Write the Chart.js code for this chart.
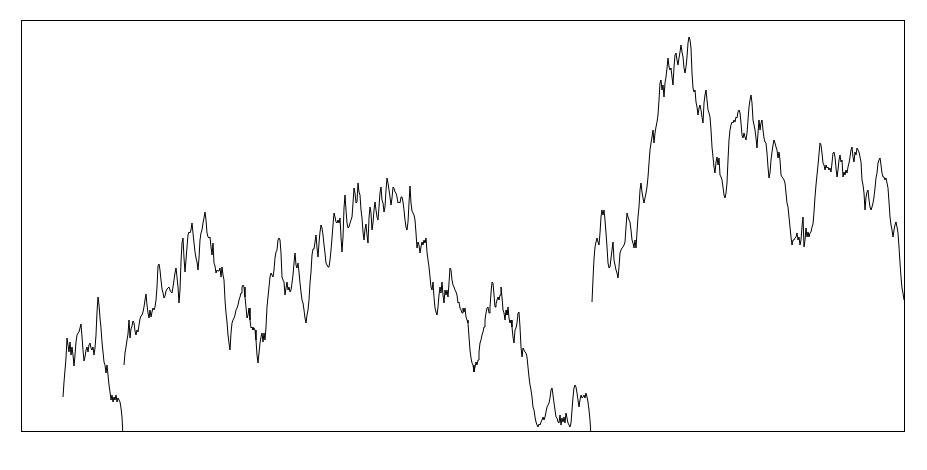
<!DOCTYPE html>
<html>

<head>
    <style>
        body { margin: 0; background: #fff; }
        #wrap { width: 927px; height: 470px; }
    </style>
</head>

<body>
    <div id="wrap">
        <canvas id="chartId"></canvas>
    </div>
    <script src="https://cdn.jsdelivr.net/npm/chart.js"></script>
    <script>
        // 값은 그림에서 읽은 것 (세 구간, 구간 사이는 끊김)
        const segStarts = [63, 124, 592];

        const seg1 = [
            34, 49, 61, 73, 93, 86, 79, 89, 76, 84,
            76, 65, 76, 89, 96, 98, 99, 103, 107, 94,
            81, 70, 74, 81, 84, 79, 86, 88, 83, 81,
            84, 76, 83, 96, 119, 134, 126, 113, 103, 89,
            79, 69, 66, 58, 66, 56, 46, 39, 31, 36,
            29, 34, 31, 36, 29, 33, 31, 29, 23, 14,
            -5
        ];

        const seg2 = [
            66, 78, 84, 91, 97, 111, 93, 102, 105, 110,
            108, 100, 96, 101, 99, 106, 112, 115, 116, 119,
            124, 131, 137, 126, 118, 113, 121, 114, 119, 123,
            121, 124, 131, 144, 165, 167, 161, 151, 142, 138,
            133, 135, 140, 142, 143, 144, 141, 139, 138, 144,
            151, 158, 163, 154, 144, 128, 141, 169, 188, 193,
            173, 159, 171, 184, 196, 199, 198, 201, 208, 198,
            188, 179, 173, 169, 161, 173, 191, 198, 201, 208,
            213, 219, 211, 198, 194, 193, 194, 184, 176, 188,
            168, 165, 158, 161, 160, 160, 163, 154, 164, 156,
            151, 131, 118, 109, 96, 88, 81, 98, 108, 111,
            113, 116, 121, 123, 126, 131, 134, 138, 144, 146,
            144, 134, 124, 113, 116, 123, 111, 103, 104, 101,
            103, 101, 91, 76, 68, 78, 88, 94, 98, 89,
            98, 91, 104, 124, 134, 144, 154, 158, 156, 154,
            161, 173, 179, 181, 191, 193, 191, 178, 154, 151,
            149, 136, 143, 149, 141, 144, 139, 141, 148, 156,
            168, 178, 166, 163, 168, 159, 148, 139, 131, 128,
            121, 113, 108, 116, 121, 131, 148, 159, 176, 182,
            182, 189, 196, 183, 174, 188, 199, 206, 203, 196,
            186, 178, 168, 166, 164, 164, 171, 181, 193, 206,
            218, 214, 209, 208, 211, 208, 213, 194, 179, 194,
            223, 236, 221, 208, 203, 204, 208, 211, 214, 228,
            243, 238, 228, 229, 248, 239, 236, 221, 213, 199,
            191, 202, 207, 196, 188, 213, 224, 218, 201, 208,
            221, 229, 221, 214, 211, 224, 238, 244, 231, 228,
            219, 224, 241, 253, 248, 241, 234, 226, 233, 244,
            243, 239, 238, 234, 228, 229, 228, 234, 234, 229,
            221, 211, 204, 201, 209, 228, 245, 228, 220, 218,
            216, 211, 198, 183, 189, 186, 178, 184, 189, 186,
            191, 188, 193, 179, 171, 164, 154, 144, 141, 149,
            134, 123, 119, 116, 124, 136, 144, 138, 149, 136,
            128, 141, 136, 141, 134, 148, 163, 161, 151, 146,
            144, 141, 139, 136, 128, 129, 123, 121, 118, 123,
            119, 123, 114, 111, 108, 94, 81, 73, 68, 66,
            59, 64, 69, 66, 71, 79, 88, 91, 96, 99,
            104, 111, 118, 123, 124, 118, 124, 138, 149, 148,
            136, 124, 127, 131, 134, 131, 136, 144, 134, 121,
            118, 111, 121, 116, 124, 113, 108, 111, 104, 94,
            88, 101, 103, 108, 118, 119, 104, 84, 74, 83,
            81, 79, 78, 74, 64, 54, 46, 41, 34, 24,
            21, 14, 9, 6, 4, 7, 6, 9, 11, 14,
            11, 14, 19, 24, 26, 28, 33, 41, 43, 36,
            28, 21, 14, 13, 9, 8, 16, 6, 13, 9,
            14, 8, 18, 13, 8, 6, 4, 8, 21, 34,
            43, 46, 44, 38, 31, 24, 31, 36, 33, 34,
            36, 33, 38, 34, 29, 21, 11, -5
        ];

        const seg3 = [
            129, 152, 172, 184, 189, 193, 189, 186, 198, 214,
            221, 216, 221, 211, 198, 184, 168, 163, 164, 173,
            181, 189, 171, 166, 161, 158, 153, 164, 178, 181,
            183, 184, 186, 189, 204, 218, 214, 211, 209, 201,
            191, 188, 183, 191, 183, 199, 214, 224, 241, 248,
            239, 233, 228, 233, 238, 244, 254, 268, 281, 288,
            294, 301, 288, 298, 304, 309, 316, 331, 348, 351,
            341, 346, 334, 348, 354, 363, 373, 364, 361, 363,
            354, 346, 364, 376, 378, 371, 366, 373, 379, 386,
            379, 374, 363, 358, 364, 374, 388, 394, 391, 383,
            358, 343, 339, 341, 329, 324, 316, 323, 326, 321,
            314, 308, 328, 336, 341, 331, 321, 318, 314, 301,
            284, 274, 264, 258, 269, 274, 266, 273, 256, 254,
            251, 244, 236, 233, 238, 248, 271, 291, 301, 306,
            309, 308, 311, 309, 314, 313, 319, 321, 318, 308,
            296, 293, 298, 294, 291, 298, 311, 324, 331, 336,
            328, 311, 306, 301, 293, 283, 298, 311, 301, 308,
            311, 301, 293, 289, 288, 278, 264, 253, 258, 271,
            279, 286, 291, 288, 284, 281, 273, 279, 271, 256,
            254, 253, 251, 248, 238, 228, 224, 214, 204, 194,
            186, 191, 191, 193, 194, 198, 191, 194, 186, 191,
            204, 214, 184, 191, 203, 194, 199, 194, 198, 199,
            204, 207, 219, 234, 246, 256, 266, 277, 288, 286,
            278, 268, 266, 261, 266, 263, 264, 261, 263, 259,
            268, 278, 279, 274, 263, 254, 261, 271, 276, 269,
            271, 254, 259, 256, 261, 258, 264, 268, 274, 281,
            284, 274, 269, 279, 276, 283, 281, 279, 274, 269,
            251, 246, 238, 221, 234, 239, 241, 231, 224, 221,
            224, 228, 234, 243, 253, 258, 268, 271, 273, 266,
            258, 254, 254, 251, 253, 248, 243, 229, 214, 206,
            201, 194, 201, 206, 209, 204, 198, 184, 168, 154,
            143, 138, 131
        ];

        const segments = [seg1, seg2, seg3];

        // 구간들을 하나의 데이터셋으로 (사이에 null 넣어서 선을 끊음)
        const points = [];
        segments.forEach((seg, s) => {
            if (s > 0) points.push({ x: segStarts[s] - 0.5, y: null });
            seg.forEach((v, i) => points.push({ x: segStarts[s] + i, y: v }));
        });

        // 그래프 영역 테두리
        const frame = {
            id: 'frame',
            afterDraw(chart) {
                const { ctx, chartArea: a } = chart;
                ctx.save();
                ctx.strokeStyle = '#000';
                ctx.lineWidth = 1;
                ctx.strokeRect(a.left + 0.5, a.top + 0.5, a.right - a.left, a.bottom - a.top);
                ctx.restore();
            }
        };

        const chartCanvas = document.getElementById('chartId');
        new Chart(chartCanvas, {
            type: 'line',
            data: {
                datasets: [{
                    data: points,
                    borderColor: '#000',
                    borderWidth: 1,
                    pointRadius: 0,
                    tension: 0,
                    spanGaps: false
                }]
            },
            options: {
                responsive: true,
                maintainAspectRatio: false,
                animation: false,
                layout: { padding: { left: 21, right: 23, top: 20, bottom: 39 } },
                plugins: { legend: { display: false }, tooltip: { enabled: false } },
                scales: {
                    x: { type: 'linear', min: 21, max: 904, display: false },
                    y: { min: 0, max: 411, display: false }
                }
            },
            plugins: [frame]
        });
    </script>
</body>

</html>
